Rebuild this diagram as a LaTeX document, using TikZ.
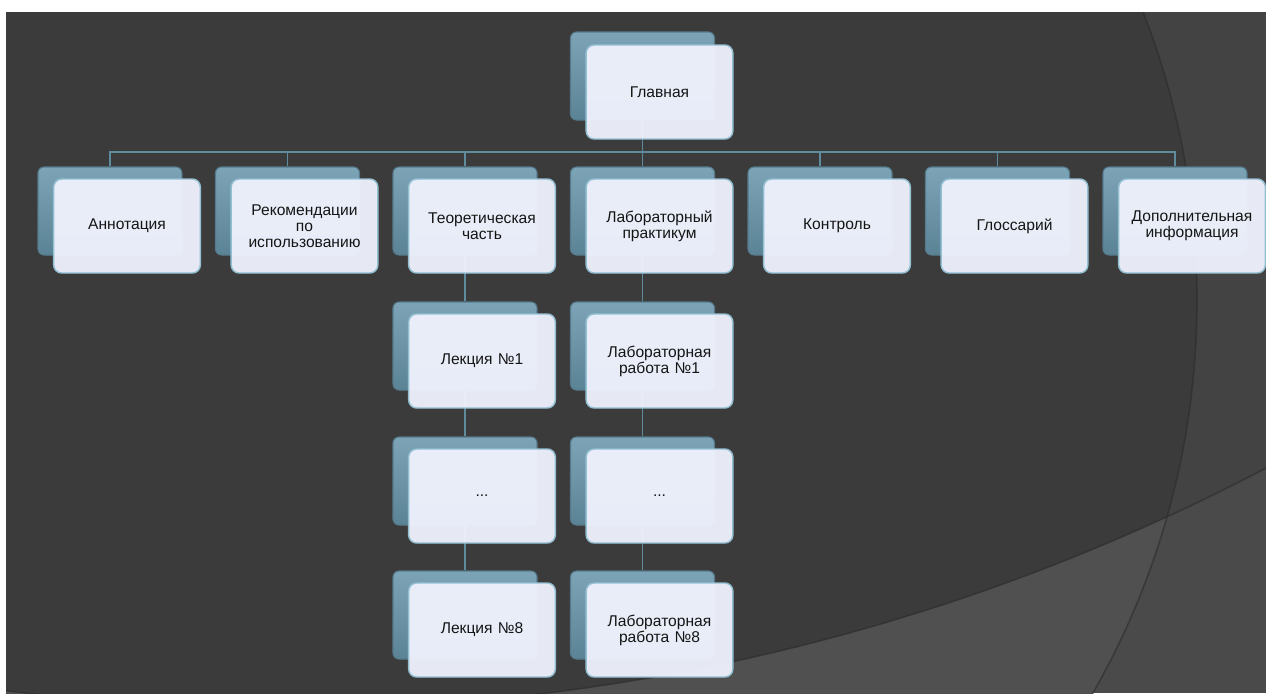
\documentclass[tikz,border=0pt]{standalone}
\usepackage{fontspec}
\setmainfont{Liberation Sans}
\usepackage{tikz}

\definecolor{bgdark}{HTML}{3B3B3B}
\definecolor{bgright}{HTML}{434343}
\definecolor{bglow}{HTML}{505050}
\definecolor{bglowright}{HTML}{4A4A4A}
\definecolor{bgedge}{HTML}{2C2C2C}
\definecolor{backtop}{HTML}{7DA3B6}
\definecolor{backbot}{HTML}{5B8396}
\definecolor{backline}{HTML}{557A8C}
\definecolor{frontfill}{HTML}{EEF1FC}
\definecolor{frontline}{HTML}{93BFD3}
\definecolor{linkcol}{HTML}{5E8C9C}
\definecolor{textcol}{HTML}{151515}

\begin{document}
\begin{tikzpicture}[x=0.75pt,y=-0.75pt,
  back/.style={draw=backline, line width=0.8pt, rounded corners=4.5pt, top color=backtop, bottom color=backbot, minimum width=108pt, minimum height=66pt, inner sep=0pt},
  front/.style={draw=frontline, line width=1.1pt, rounded corners=6pt, fill=frontfill, fill opacity=0.96, text opacity=1, text=textcol, minimum width=110pt, minimum height=70.5pt, inner sep=2pt, text width=106pt, align=center, font=\fontsize{11.7}{12}\selectfont},
  link/.style={linkcol, line width=1.4pt}]

\useasboundingbox[fill=white] (0,0) rectangle (1266,693);

\begin{scope}
\clip (6,12) rectangle (1266,693);
\fill[bglowright] (6,12) rectangle (1266,693);
\fill[bglow] (404,300) circle (594.75pt);
\fill[bgright] (286,-1400) circle (1581.75pt);
\begin{scope}
\clip (404,300) circle (594.75pt);
\fill[bgdark] (286,-1400) circle (1581.75pt);
\end{scope}
\draw[bgedge, line width=1.2pt, opacity=0.6] (404,300) circle (594.75pt);
\draw[bgedge, line width=1.2pt, opacity=0.6] (286,-1400) circle (1581.75pt);
\end{scope}

\node (glavB) at (642.5,76)   [back] {};
\node (annB) at (110,211)     [back] {};
\node (recB) at (287.5,211)   [back] {};
\node (teorB) at (465,211)    [back] {};
\node (labB) at (642.5,211)   [back] {};
\node (kontrB) at (820,211)   [back] {};
\node (glossB) at (997.5,211) [back] {};
\node (dopB) at (1175,211)    [back] {};
\node (lek1B) at (465,346)    [back] {};
\node (lekdB) at (465,481)    [back] {};
\node (lek8B) at (465,615)    [back] {};
\node (lr1B) at (642.5,346)   [back] {};
\node (lrdB) at (642.5,481)   [back] {};
\node (lr8B) at (642.5,615)   [back] {};

\coordinate (hub) at (642.5,152);
\draw[link] (glavB) -- (hub);
\draw[link] (hub) -| (annB);
\draw[link] (hub) -| (recB);
\draw[link] (hub) -| (teorB);
\draw[link] (hub) -- (labB);
\draw[link] (hub) -| (kontrB);
\draw[link] (hub) -| (glossB);
\draw[link] (hub) -| (dopB);
\draw[link] (teorB) -- (lek1B);
\draw[link] (lek1B) -- (lekdB);
\draw[link] (lekdB) -- (lek8B);
\draw[link] (labB) -- (lr1B);
\draw[link] (lr1B) -- (lrdB);
\draw[link] (lrdB) -- (lr8B);

\node (glav) at (659.5,92)    [front] {Главная};
\node (ann) at (127,226)      [front] {Аннотация};
\node (rec) at (304.5,226)    [front] {Рекомендации\\по\\использованию};
\node (teor) at (482,226)     [front] {Теоретическая\\часть};
\node (lab) at (659.5,226)    [front] {Лабораторный\\практикум};
\node (kontr) at (837,226)    [front] {Контроль};
\node (gloss) at (1014.5,226) [front] {Глоссарий};
\node (dop) at (1192,226)     [front] {Дополнительная\\информация};
\node (lek1) at (482,361)     [front] {Лекция №1};
\node (lekd) at (482,496)     [front] {...};
\node (lek8) at (482,630)     [front] {Лекция №8};
\node (lr1) at (659.5,361)    [front] {Лабораторная\\работа №1};
\node (lrd) at (659.5,496)    [front] {...};
\node (lr8) at (659.5,630)    [front] {Лабораторная\\работа №8};

\end{tikzpicture}
\end{document}
